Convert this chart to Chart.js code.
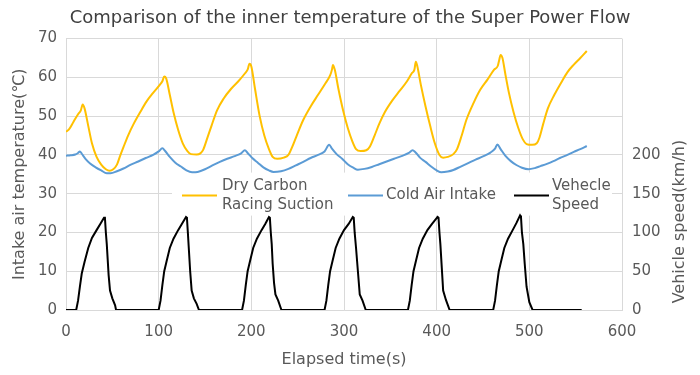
<!DOCTYPE html>
<html>
<head>
<meta charset="utf-8">
<script src="https://cdn.jsdelivr.net/npm/chart.js@4.4.0/dist/chart.umd.min.js"></script>
<style>
  html, body { margin: 0; padding: 0; background: #fff; }
</style>
</head>
<body>
<canvas id="line-chart" width="700" height="375"></canvas>
<script>
// temperatures (deg C)
var tempTime = [0, 3, 8, 13, 16, 18, 20, 24, 28, 33, 38, 43, 47, 51, 55, 58, 62, 67, 73, 80, 87, 94, 101, 104, 106, 108, 112, 116, 121, 126, 131, 135, 141, 145, 148, 152, 157, 163, 170, 178, 186, 193, 196, 198, 200, 204, 209, 214, 219, 223, 228, 235, 240, 244, 249, 256, 264, 272, 280, 285, 287, 288, 290, 294, 299, 304, 309, 313, 318, 324, 328, 333, 338, 344, 352, 360, 368, 373, 376, 377.5, 379, 383, 388, 393, 398, 403, 407, 412, 418, 422, 427, 432, 440, 447, 455, 462, 466, 467.5, 469, 471, 474, 478, 483, 488, 493, 497, 503, 508, 511, 515, 520, 527, 534, 541, 548, 555, 562];
var dryCarbon = [46.0, 46.5, 48.5, 50.5, 51.5, 53.0, 52.0, 47.5, 43.0, 39.5, 37.5, 36.3, 35.9, 36.3, 37.5, 39.5, 42.0, 45.0, 48.0, 51.0, 53.8, 56.0, 58.0, 59.0, 60.2, 59.8, 55.5, 51.0, 46.5, 43.0, 41.0, 40.2, 40.1, 40.4, 41.3, 44.0, 47.5, 51.5, 54.5, 57.0, 59.0, 61.0, 62.0, 63.5, 62.8, 57.0, 50.0, 45.0, 41.5, 39.5, 39.0, 39.3, 40.0, 42.0, 45.0, 49.0, 52.5, 55.5, 58.5, 60.5, 62.0, 63.2, 62.0, 57.0, 51.5, 47.0, 43.5, 41.5, 41.0, 41.2, 42.2, 45.0, 48.0, 51.0, 54.0, 56.5, 59.0, 61.0, 62.0, 64.0, 63.0, 58.0, 52.5, 47.5, 43.0, 40.0, 39.3, 39.5, 40.2, 41.5, 45.0, 49.0, 53.5, 56.8, 59.5, 62.0, 63.0, 64.5, 65.8, 65.0, 61.0, 56.0, 51.0, 47.0, 44.0, 42.8, 42.6, 43.0, 44.5, 48.0, 52.0, 55.5, 58.5, 61.3, 63.3, 65.0, 66.8];

var coldTime = [0, 5, 10, 13, 15, 17, 21, 26, 32, 38, 44, 48, 55, 62, 70, 78, 86, 94, 100, 104, 107, 112, 118, 124, 130, 136, 142, 150, 158, 166, 174, 182, 189, 193, 196, 201, 207, 213, 219, 224, 232, 240, 248, 256, 264, 272, 279, 284, 287, 292, 298, 304, 310, 315, 322, 330, 338, 346, 354, 362, 370, 374, 377, 382, 388, 394, 400, 405, 412, 418, 426, 434, 442, 450, 458, 463, 465.5, 469, 474, 480, 486, 492, 499, 506, 512, 519, 526, 533, 540, 548, 555, 562];
var coldAir = [39.8, 39.9, 40.1, 40.5, 40.9, 40.3, 39.0, 37.8, 36.8, 36.0, 35.3, 35.3, 35.8, 36.5, 37.5, 38.3, 39.2, 40.0, 40.9, 41.7, 41.0, 39.5, 38.0, 37.0, 36.0, 35.5, 35.6, 36.3, 37.3, 38.2, 39.0, 39.7, 40.4, 41.2, 40.5, 39.2, 38.0, 36.8, 36.0, 35.6, 35.8, 36.4, 37.3, 38.2, 39.2, 40.0, 40.9, 42.6, 41.6, 40.2, 39.0, 37.6, 36.7, 36.2, 36.4, 36.9, 37.6, 38.3, 39.0, 39.7, 40.5, 41.2, 40.7, 39.3, 38.2, 37.0, 36.0, 35.5, 35.7, 36.1, 37.0, 37.9, 38.8, 39.6, 40.6, 41.6, 42.7, 41.5, 39.8, 38.4, 37.4, 36.7, 36.3, 36.6, 37.1, 37.7, 38.4, 39.2, 39.9, 40.8, 41.5, 42.3];

// vehicle speed (km/h)
var speedTime = [0, 11, 13, 15, 17, 20, 24, 28, 33, 37, 41, 42, 43, 44, 45, 46, 47.5, 50, 53, 54,
  100, 102, 104, 106, 109, 112, 116, 121, 125, 129.5, 130.5, 131.5, 132.5, 134, 135.6, 138, 141, 143.5,
  190, 192, 194, 196, 199, 202, 206, 211, 215, 219, 220, 221, 222, 223, 224.5, 226, 229, 232.5,
  279, 281, 283, 285, 288, 291, 295, 300, 305, 309.5, 310.5, 311.5, 313, 315, 317, 320, 323.5,
  369, 371, 373, 375, 378, 381, 385, 390, 395, 401, 402, 403, 404, 405.5, 407, 410, 414,
  461, 463, 465, 467, 470, 473, 477, 482, 486, 490, 491, 492, 493.5, 495, 497, 500, 503.5, 556.5];
var speed = [0, 0, 12, 30, 47, 62, 80, 93, 103, 111, 119, 119, 100, 85, 65, 45, 25, 15, 6, 0,
  0, 12, 32, 50, 65, 80, 92, 103, 111, 120, 119, 100, 80, 50, 25, 15, 8, 0,
  0, 12, 32, 50, 65, 80, 92, 103, 111, 120, 119, 100, 85, 60, 35, 20, 12, 0,
  0, 12, 32, 50, 65, 80, 92, 103, 111, 120, 119, 100, 80, 50, 20, 12, 0,
  0, 12, 32, 50, 65, 80, 92, 103, 111, 120, 119, 100, 85, 55, 25, 13, 0,
  0, 12, 32, 50, 65, 80, 92, 103, 112, 122, 120, 100, 85, 60, 30, 10, 0, 0];

var legendLines = [['Dry Carbon', 'Racing Suction'], ['Cold Air Intake'], ['Vehecle', 'Speed']];
var seriesColors = ['#FFC000', '#5B9BD5', '#000000'];
var speedAxisTitle = 'Vehicle speed(km/h)';

function pts(xs, ys) {
  return xs.map(function(x, i) { return { x: x, y: ys[i] }; });
}

var textColor = '#595959';
var gridColor = '#d9d9d9';
var fontFamily = '"DejaVu Sans", Verdana, sans-serif';
Chart.defaults.font.family = fontFamily;
Chart.defaults.color = textColor;

// legend sits inside the plot, on a white box, with two-line labels
var insideLegend = {
  id: 'insideLegend',
  beforeDatasetsDraw: function(chart) {
    var ctx = chart.ctx, ca = chart.chartArea;
    var top = ca.top + 134, left = ca.left + 106;
    ctx.save();
    ctx.fillStyle = '#ffffff';
    ctx.fillRect(left, top, 440, 43);
    var items = [
      { x: ca.left + 116, tx: ca.left + 156 },
      { x: ca.left + 282, tx: ca.left + 320 },
      { x: ca.left + 448, tx: ca.left + 486 }
    ];
    var midY = ca.top + 157;
    ctx.font = '15px ' + fontFamily;
    ctx.textBaseline = 'middle';
    ctx.textAlign = 'left';
    items.forEach(function(it, i) {
      ctx.strokeStyle = seriesColors[i];
      ctx.lineWidth = 2;
      ctx.beginPath();
      ctx.moveTo(it.x, midY);
      ctx.lineTo(it.x + 35, midY);
      ctx.stroke();
      ctx.fillStyle = textColor;
      var lines = legendLines[i];
      var lh = 19;
      var y0 = midY - (lines.length - 1) * lh / 2;
      lines.forEach(function(t, j) { ctx.fillText(t, it.tx, y0 + j * lh); });
    });
    ctx.restore();
  },
  // right axis title reads bottom-to-top like the left one
  afterDraw: function(chart) {
    var ctx = chart.ctx, ca = chart.chartArea;
    ctx.save();
    ctx.translate(chart.width - 20, ca.top + 183);
    ctx.rotate(-Math.PI / 2);
    ctx.font = '16px ' + fontFamily;
    ctx.fillStyle = textColor;
    ctx.textAlign = 'center';
    ctx.textBaseline = 'middle';
    ctx.fillText(speedAxisTitle, 0, 0);
    ctx.restore();
  }
};

new Chart(document.getElementById('line-chart'), {
  type: 'line',
  data: {
    datasets: [{
      label: legendLines[0].join(' '),
      data: pts(tempTime, dryCarbon),
      borderColor: seriesColors[0],
      yAxisID: 'y',
      cubicInterpolationMode: 'monotone'
    }, {
      label: legendLines[1].join(' '),
      data: pts(coldTime, coldAir),
      borderColor: seriesColors[1],
      yAxisID: 'y',
      cubicInterpolationMode: 'monotone'
    }, {
      label: legendLines[2].join(' '),
      data: pts(speedTime, speed),
      borderColor: seriesColors[2],
      yAxisID: 'y2'
    }]
  },
  options: {
    responsive: false,
    animation: false,
    elements: {
      point: { radius: 0 },
      line: { borderWidth: 2, fill: false }
    },
    layout: { padding: 0 },
    plugins: {
      legend: { display: false },
      tooltip: { enabled: false },
      title: {
        display: true,
        text: 'Comparison of the inner temperature of the Super Power Flow',
        color: '#404040',
        font: { size: 18, weight: 'normal' },
        padding: { top: 8, bottom: 9 }
      }
    },
    scales: {
      x: {
        type: 'linear',
        min: 0, max: 600,
        ticks: { stepSize: 100, font: { size: 15 }, padding: 13, maxRotation: 0 },
        grid: { color: gridColor, drawTicks: false },
        border: { color: gridColor },
        title: { display: true, text: 'Elapsed time(s)', font: { size: 16 }, padding: { top: 4, bottom: 6 } },
        afterFit: function(s) { s.height = 65; }
      },
      y: {
        position: 'left',
        min: 0, max: 70,
        ticks: { stepSize: 10, font: { size: 15 }, padding: 9 },
        grid: { color: gridColor, drawTicks: false },
        border: { color: gridColor },
        title: { display: true, text: 'Intake air temperature(℃)', font: { size: 16 }, padding: { top: 10, bottom: 4 } },
        afterFit: function(s) { s.width = 66; }
      },
      y2: {
        position: 'right',
        min: 0, max: 350,
        ticks: {
          stepSize: 50, font: { size: 15 }, padding: 10,
          callback: function(v) { return v <= 200 ? v : ''; }
        },
        grid: { display: false, drawTicks: false },
        border: { display: false },
        title: { display: false },
        afterFit: function(s) { s.width = 78; }
      }
    }
  },
  plugins: [insideLegend]
});
</script>
</body>
</html>
